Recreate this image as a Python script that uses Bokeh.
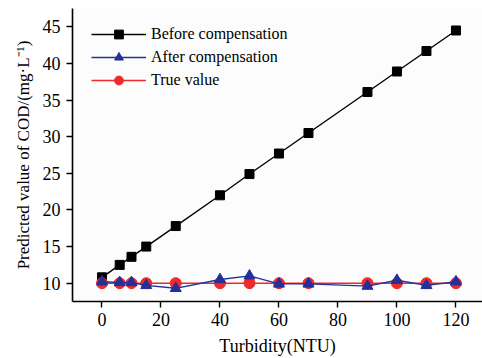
from bokeh.plotting import figure
from bokeh.models import Range1d, FixedTicker, Legend, LegendItem
from bokeh.embed import file_html
from bokeh.resources import INLINE

turbidity = [0, 6, 10, 15, 25, 40, 50, 60, 70, 90, 100, 110, 120]
before_comp = [10.8, 12.5, 13.6, 15.0, 17.8, 22.0, 24.9, 27.7, 30.5, 36.1, 38.9, 41.7, 44.5]
after_comp = [10.2, 10.1, 10.1, 9.7, 9.3, 10.5, 11.0, 9.9, 9.9, 9.6, 10.4, 9.7, 10.2]
true_value = [10, 10, 10, 10, 10, 10, 10, 10, 10, 10, 10, 10, 10]
x_ticks = [0, 20, 40, 60, 80, 100, 120]
y_ticks = [10, 15, 20, 25, 30, 35, 40, 45]

FONT = "Liberation Serif"
AXFONT = "'Liberation Serif', 'Times New Roman', serif"

p = figure(width=482, height=358, output_backend="svg", toolbar_location=None,
           x_range=Range1d(-10, 129), y_range=Range1d(7.5, 47.5),
           min_border_left=72, min_border_right=0, min_border_top=8, min_border_bottom=53)
p.outline_line_color = None
p.background_fill_color = "#fcfcfc"
p.border_fill_color = "white"
p.xgrid.visible = False
p.ygrid.visible = False

for ax in (p.xaxis[0], p.yaxis[0]):
    ax.axis_line_width = 1.6
    ax.axis_line_color = "black"
    ax.major_tick_line_width = 1.4
    ax.major_tick_out = 6
    ax.major_tick_in = 0
    ax.minor_tick_out = 0
    ax.minor_tick_in = 0
    ax.major_label_text_font = AXFONT
    ax.major_label_text_font_size = "18px"
    ax.major_label_text_color = "black"
    ax.axis_label_text_font = AXFONT
    ax.axis_label_text_font_style = "normal"
    ax.axis_label_text_color = "black"

p.xaxis.ticker = FixedTicker(ticks=x_ticks)
p.yaxis.ticker = FixedTicker(ticks=y_ticks)
p.xaxis.axis_label = "Turbidity(NTU)"
p.xaxis.axis_label_text_font_size = "18px"
p.xaxis.axis_label_standoff = 7
p.xaxis.major_label_standoff = 5
p.yaxis.axis_label = "Predicted value of COD/(mg·L⁻¹)"
p.yaxis.axis_label_text_font_size = "17px"
p.yaxis.axis_label_standoff = 7
p.yaxis.major_label_standoff = 6

black = "black"
blue = "#24309a"
red = "#ee2a2a"

l1 = p.line(turbidity, before_comp, line_color=black, line_width=1.4)
s1 = p.scatter(turbidity, before_comp, marker="square", size=9, fill_color=black, line_color=black)
l3 = p.line(turbidity, true_value, line_color=red, line_width=1.6)
s3 = p.scatter(turbidity, true_value, marker="circle", size=11, fill_color=red, line_color=red)
l2 = p.line(turbidity, after_comp, line_color=blue, line_width=1.4)
s2 = p.scatter(turbidity, after_comp, marker="triangle", size=11, fill_color=blue, line_color=blue)

legend = Legend(items=[
    LegendItem(label="Before compensation", renderers=[l1, s1]),
    LegendItem(label="After compensation", renderers=[l2, s2]),
    LegendItem(label="True value", renderers=[l3, s3]),
], location=(19, 210))
legend.border_line_color = None
legend.background_fill_alpha = 0
legend.padding = 5
legend.margin = 0
legend.spacing = 1
legend.glyph_width = 55
legend.glyph_height = 22
legend.label_height = 22
legend.label_standoff = 5
legend.label_text_font = FONT
legend.label_text_font_size = "16px"
legend.label_text_color = "black"
p.add_layout(legend)

open("out.html", "w").write(file_html(p, INLINE))
